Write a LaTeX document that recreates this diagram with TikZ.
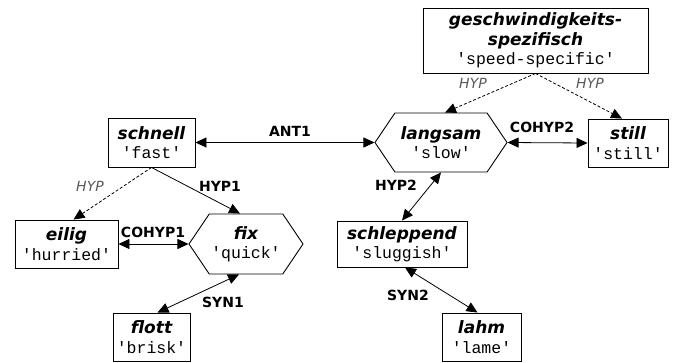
\documentclass[tikz,border=0pt]{standalone}
\usepackage{fontspec}
\setsansfont{DejaVu Sans}
\setmonofont{Liberation Mono}
\usetikzlibrary{arrows.meta,shapes.symbols}
\tikzset{
  box/.style={draw, line width=0.9pt, rectangle, inner sep=0pt, align=center, font=\fontsize{17}{19.5}\selectfont},
  hexa/.style={draw, line width=0.9pt, signal, signal to=east and west, signal pointer angle=112, inner sep=0pt, align=center, font=\fontsize{17}{19.5}\selectfont},
  arr/.style={line width=0.8pt, -{Triangle[length=11pt,width=10pt]}},
  biarr/.style={line width=0.8pt, {Triangle[length=11pt,width=10pt]}-{Triangle[length=11pt,width=10pt]}},
  hyparr/.style={arr, dashed, dash pattern=on 3pt off 2pt},
  rel/.style={font=\fontsize{14}{16}\selectfont\sffamily\bfseries},
  hyp/.style={font=\fontsize{14}{16}\selectfont\sffamily\itshape, text=black!65},
}
\newcommand{\wordtxt}[1]{{\fontsize{17}{19.5}\selectfont\sffamily\bfseries\itshape #1}}
\newcommand{\glosstxt}[1]{{\fontsize{16.5}{19.5}\selectfont\ttfamily #1}}
\begin{document}
\begin{tikzpicture}[x=1pt,y=-1pt]
\useasboundingbox (0,0) rectangle (675,362);
% nodes
\node[box, minimum width=225pt, minimum height=65pt] (geschw) at (535.5,40.5)
  {\wordtxt{geschwindigkeits-}\\\wordtxt{spezifisch}\\\glosstxt{'speed-specific'}};
\node[box, minimum width=87pt, minimum height=49pt] (schnell) at (151.5,142.5) {\wordtxt{schnell}\\\glosstxt{'fast'}};
\node[hexa, minimum width=132pt, minimum height=59pt] (langsam) at (441,142.5) {\wordtxt{langsam}\\\glosstxt{'slow'}};
\node[box, minimum width=80pt, minimum height=48pt] (still) at (628,143) {\wordtxt{still}\\\glosstxt{'still'}};
\node[box, minimum width=103pt, minimum height=48pt] (eilig) at (66.5,244) {\wordtxt{eilig}\\\glosstxt{'hurried'}};
\node[hexa, minimum width=114pt, minimum height=60pt] (fix) at (246,244) {\wordtxt{fix}\\\glosstxt{'quick'}};
\node[box, minimum width=130pt, minimum height=46pt] (schleppend) at (402,244) {\wordtxt{schleppend}\\\glosstxt{'sluggish'}};
\node[box, minimum width=77pt, minimum height=48pt] (flott) at (151.5,337) {\wordtxt{flott}\\\glosstxt{'brisk'}};
\node[box, minimum width=79pt, minimum height=48pt] (lahm) at (481.5,337) {\wordtxt{lahm}\\\glosstxt{'lame'}};
% connectors
\draw[biarr] (schnell.east) -- (langsam.west);
\draw[hyparr] (schnell.south) -- ([xshift=7pt]eilig.north);
\draw[arr] (schnell.south) -- ([xshift=-6pt]fix.north);
\draw[biarr] (eilig.east) -- (fix.west);
\draw[biarr] ([xshift=-7pt]fix.south) -- ([xshift=6pt]flott.north);
\draw[hyparr] (geschw.south) -- ([xshift=4pt]langsam.north);
\draw[hyparr] (geschw.south) -- ([xshift=-6pt]still.north);
\draw[biarr] (langsam.east) -- (still.west);
\draw[biarr] (langsam.south) -- (schleppend.north);
\draw[biarr] ([xshift=3pt]schleppend.south) -- ([xshift=-4pt]lahm.north);
% labels
\node[rel] (l-ant1) at (290,131) {ANT1};
\node[rel] (l-cohyp2) at (542,127) {COHYP2};
\node[hyp] (l-hypa) at (473,83) {HYP};
\node[hyp] (l-hypb) at (590,83) {HYP};
\node[hyp] (l-hypc) at (90,186) {HYP};
\node[rel] (l-hyp1) at (220,186) {HYP1};
\node[rel] (l-cohyp1) at (153,232) {COHYP1};
\node[rel] (l-syn1) at (223,302) {SYN1};
\node[rel] (l-hyp2) at (396,185) {HYP2};
\node[rel] (l-syn2) at (408,295) {SYN2};
\end{tikzpicture}
\end{document}
